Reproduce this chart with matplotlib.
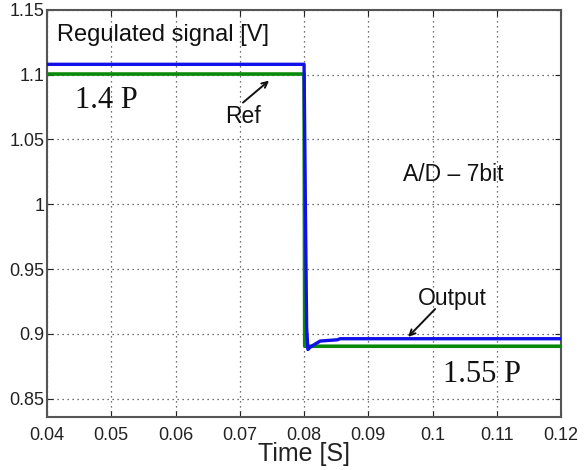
import matplotlib
matplotlib.use("Agg")
import matplotlib.pyplot as plt

# Data
out_t = [0.04, 0.0800, 0.0802, 0.0804, 0.0806, 0.0810, 0.0825, 0.0852, 0.0856, 0.12]
out_v = [1.108, 1.108, 1.000, 0.905, 0.888, 0.890, 0.8945, 0.8955, 0.8963, 0.8963]
ref_t = [0.04, 0.0800, 0.0801, 0.12]
ref_v = [1.1005, 1.1005, 0.8905, 0.8905]
xticks = [0.04, 0.05, 0.06, 0.07, 0.08, 0.09, 0.1, 0.11, 0.12]
xticklabels = ["0.04", "0.05", "0.06", "0.07", "0.08", "0.09", "0.1", "0.11", "0.12"]
yticks = [0.85, 0.9, 0.95, 1.0, 1.05, 1.1, 1.15]
yticklabels = ["0.85", "0.9", "0.95", "1", "1.05", "1.1", "1.15"]

plt.rcParams['font.family'] = ['Liberation Sans', 'DejaVu Sans']
serif = ['Liberation Serif', 'DejaVu Serif']

fig = plt.figure(figsize=(5.87, 4.70), dpi=100)
ax = fig.add_axes([0.080, 0.113, 0.876, 0.866])

ax.plot(ref_t, ref_v, color='#0a8a0a', lw=2.6, zorder=3)
ax.plot(out_t, out_v, color='#1010e8', lw=2.4, zorder=4)

ax.set_xlim(0.04, 0.12)
ax.set_ylim(0.836, 1.15)
ax.set_xticks(xticks)
ax.set_xticklabels(xticklabels)
ax.set_yticks(yticks)
ax.set_yticklabels(yticklabels)
ax.tick_params(direction='in', top=True, right=True, labelsize=13, colors='#222222', length=4)
ax.tick_params(axis='x', pad=7)
ax.tick_params(axis='y', pad=2)
ax.grid(True, linestyle=(0, (1, 3)), color='#444444', lw=0.9)
for s in ax.spines.values():
    s.set_color('#555555')
    s.set_linewidth(1.5)

ax.set_xlabel("Time [S]", fontsize=18, color='#222222', labelpad=-1)

arrow = dict(arrowstyle='->', color='#111111', lw=1.4, shrinkA=0, shrinkB=0)
txt = dict(fontsize=16.5, va='center', color='#111111')
ax.text(0.04156, 1.1308, "Regulated signal [V]", fontsize=17, va='center', color='#111111')
ax.text(0.04436, 1.080, "1.4 P", fontsize=22, family=serif, va='center', color='#111111')
ax.text(0.0677, 1.068, "Ref", **txt)
ax.annotate("", xy=(0.07455, 1.0954), xytext=(0.07050, 1.0785), arrowprops=arrow)
ax.text(0.09541, 1.0231, "A/D \u2013 7bit", **txt)
ax.text(0.09774, 0.9275, "Output", **txt)
ax.annotate("", xy=(0.09619, 0.8977), xytext=(0.10039, 0.9192), arrowprops=arrow)
ax.text(0.10163, 0.8685, "1.55 P", fontsize=22, family=serif, va='center', color='#111111')

fig.savefig("out.png", dpi=100)
